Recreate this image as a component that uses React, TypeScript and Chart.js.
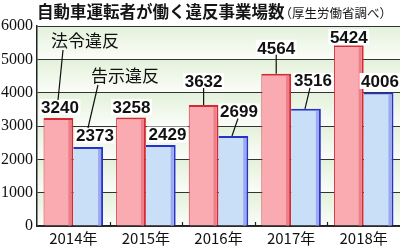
import React, { useEffect, useRef } from "react";
import { Chart, registerables } from "chart.js";

Chart.register(...registerables);

const categories = ["2014年", "2015年", "2016年", "2017年", "2018年"];
const lawViolations = [3240, 3258, 3632, 4564, 5424];
const noticeViolations = [2373, 2429, 2699, 3516, 4006];
const yTicks = [0, 1000, 2000, 3000, 4000, 5000, 6000];
const seriesNames = ["法令違反", "告示違反"];
const titleText = "自動車運転者が働く違反事業場数";
const sourceText = "（厚生労働省調べ）";

const JP = '"Noto Sans CJK JP", "Noto Sans", sans-serif';
const NUM = '"Liberation Sans", Arial, sans-serif';

// label offsets relative to bar top-centre (layout only)
const labelOffsets = [
  [[1.6, -11], [0.5, -10.4], [0, -24], [0, -26], [0, -8]],
  [[6.8, -11.4], [6.7, -10.5], [5.6, -24.5], [7, -28], [1.4, -11.5]],
];
// leader lines: [dataset, index, labelDx, barDx]
const leaders = [
  [0, 2, 0, 0],
  [0, 3, 0, 0],
  [1, 2, -1, -1.4],
  [1, 3, -3, -1],
];

const decor = {
  id: "decor",
  beforeDraw(chart: any) {
    const { ctx, chartArea: a, scales } = chart;
    const y = scales.y;
    ctx.save();
    ctx.fillStyle = "#ffffff";
    ctx.fillRect(0, 0, chart.width, chart.height);
    for (let i = 0; i < yTicks.length - 1; i++) {
      const top = y.getPixelForValue(yTicks[i + 1]);
      const bot = y.getPixelForValue(yTicks[i]);
      const g = ctx.createLinearGradient(0, top, 0, bot);
      g.addColorStop(0, "#e3f1da");
      g.addColorStop(1, "#fbfdf9");
      ctx.fillStyle = g;
      ctx.fillRect(a.left, top, a.right - a.left, bot - top);
    }
    ctx.fillStyle = "#151515";
    ctx.textBaseline = "middle";
    ctx.textAlign = "left";
    ctx.font = `bold 16.5px ${JP}`;
    ctx.fillText(titleText, 37, 12);
    const w = ctx.measureText(titleText).width;
    ctx.font = `12.5px ${JP}`;
    ctx.fillText(sourceText, 37 + w - 5, 13);
    ctx.restore();
  },
  afterDatasetsDraw(chart: any) {
    const { ctx, chartArea: a } = chart;
    ctx.save();
    // inner shadow strips on bars
    const stripCols = ["#ee7e89", "#9ea8f2"];
    [0, 1].forEach((d) => {
      chart.getDatasetMeta(d).data.forEach((bar: any) => {
        const p = bar.getProps(["x", "y", "width", "base"], true);
        const r = p.x + p.width / 2;
        ctx.fillStyle = stripCols[d];
        ctx.fillRect(r - 5, p.y + 2, 3, p.base - p.y - 2);
      });
    });
    // small ticks at category boundaries
    ctx.strokeStyle = "#222";
    ctx.lineWidth = 1.2;
    const n = categories.length;
    const cw = (a.right - a.left) / n;
    for (let i = 1; i < n; i++) {
      const px = Math.round(a.left + i * cw) + 0.5;
      ctx.beginPath();
      ctx.moveTo(px, a.bottom - 4);
      ctx.lineTo(px, a.bottom);
      ctx.stroke();
    }
    // data labels
    const pos: number[][][] = [[], []];
    const series = [lawViolations, noticeViolations];
    ctx.font = `bold 17px ${NUM}`;
    ctx.textAlign = "center";
    ctx.textBaseline = "middle";
    [0, 1].forEach((d) => {
      const meta = chart.getDatasetMeta(d);
      meta.data.forEach((bar: any, i: number) => {
        const p = bar.getProps(["x", "y"], true);
        const [dx, dy] = labelOffsets[d][i];
        const lx = p.x + dx;
        const ly = p.y + dy;
        pos[d][i] = [lx, ly, p.x, p.y];
        const txt = String(series[d][i]);
        const tw = ctx.measureText(txt).width;
        ctx.fillStyle = "#ffffff";
        ctx.fillRect(lx - tw / 2 - 1.5, ly - 8, tw + 3, 16);
        ctx.fillStyle = "#111";
        ctx.fillText(txt, lx, ly + 1);
      });
    });
    // leader lines
    ctx.strokeStyle = "#111";
    ctx.lineWidth = 1.2;
    leaders.forEach(([d, i, ldx, bdx]) => {
      const [lx, ly, bx, by] = pos[d][i];
      ctx.beginPath();
      ctx.moveTo(lx + ldx, ly + 7);
      ctx.lineTo(bx + bdx, by);
      ctx.stroke();
    });
    // series name labels with leader lines to first value labels
    const nameOffsets = [
      [25, -66, -22, 9, -2, -7],
      [30, -60, -27, 9.5, -7, -7.5],
    ];
    ctx.font = `17px ${JP}`;
    [0, 1].forEach((d) => {
      const [lx, ly] = pos[d][0];
      const [ndx, ndy, sdx, sdy, edx, edy] = nameOffsets[d];
      const nx = lx + ndx;
      const ny = ly + ndy;
      ctx.fillStyle = "#111";
      ctx.fillText(seriesNames[d], nx, ny);
      ctx.beginPath();
      ctx.moveTo(nx + sdx, ny + sdy);
      ctx.lineTo(lx + edx, ly + edy);
      ctx.stroke();
    });
    ctx.restore();
  },
};

export default function App() {
  const ref = useRef<HTMLCanvasElement>(null);
  useEffect(() => {
    document.body.style.margin = "0";
    const chart = new Chart(ref.current as HTMLCanvasElement, {
      type: "bar",
      data: {
        labels: categories,
        datasets: [
          {
            label: seriesNames[0],
            data: lawViolations,
            backgroundColor: "#f9abb1",
            borderColor: "#d42a36",
            borderWidth: { top: 2, right: 2, left: 1, bottom: 0 },
            borderSkipped: "start",
          },
          {
            label: seriesNames[1],
            data: noticeViolations,
            backgroundColor: "#c9def7",
            borderColor: "#2433c8",
            borderWidth: { top: 2, right: 2, left: 0, bottom: 0 },
            borderSkipped: "start",
          },
        ],
      },
      options: {
        animation: false,
        responsive: true,
        maintainAspectRatio: false,
        layout: { padding: { top: 26, right: 0, left: 0, bottom: 0 } },
        datasets: { bar: { categoryPercentage: 0.82, barPercentage: 1 } },
        plugins: { legend: { display: false }, tooltip: { enabled: false }, title: { display: false } },
        scales: {
          x: {
            grid: { display: false, drawTicks: false },
            border: { display: true, color: "#222", width: 1.5 },
            ticks: { font: { family: JP, size: 15 }, color: "#111", padding: 3 },
            afterFit(s: any) { s.height = 21; },
          },
          y: {
            min: 0,
            max: 6000,
            ticks: {
              stepSize: 1000,
              font: { family: '"Liberation Serif", serif', size: 16 },
              color: "#111",
              padding: 4,
              callback: (v: any) => String(v),
            },
            grid: { color: "#333", lineWidth: 1, drawTicks: false },
            border: { display: true, color: "#222", width: 1.5 },
            afterFit(s: any) { s.width = 37; },
          },
        },
      },
      plugins: [decor],
    });
    return () => chart.destroy();
  }, []);
  return (
    <div style={{ width: 400, height: 247, position: "relative" }}>
      <canvas ref={ref} />
    </div>
  );
}
